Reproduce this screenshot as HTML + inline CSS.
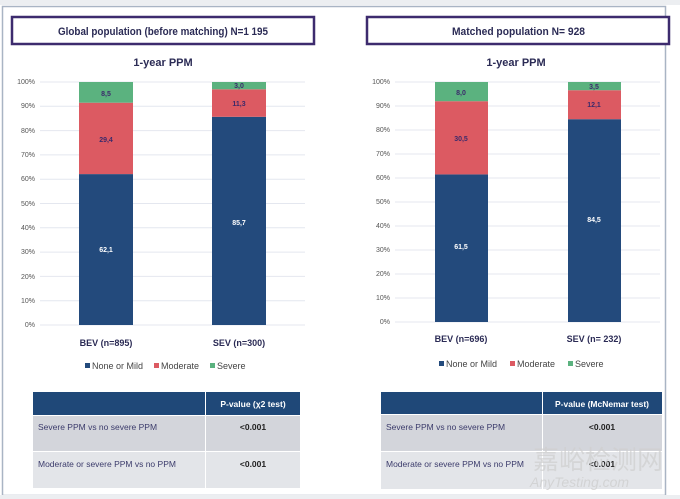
<!DOCTYPE html><html><head><meta charset="utf-8"><style>body{margin:0;background:#fff}svg{display:block}text{font-family:"Liberation Sans",sans-serif}</style></head><body>
<svg width="680" height="499" xmlns="http://www.w3.org/2000/svg">
<rect width="680" height="499" fill="#fff"/>
<rect x="0" y="0" width="680" height="5" fill="#eceef1"/>
<rect x="2.5" y="6.5" width="663" height="489" fill="none" stroke="#a9b4c4" stroke-width="1.5"/>
<rect x="0" y="495" width="680" height="4" fill="#eceef1"/>
<rect x="12" y="17" width="302" height="27" fill="#fff" stroke="#3d2b6e" stroke-width="2.5"/>
<text x="58" y="35" font-size="11" font-weight="bold" fill="#2b2b55" textLength="210" lengthAdjust="spacingAndGlyphs">Global population (before matching) N=1 195</text>
<rect x="367" y="17" width="302" height="27" fill="#fff" stroke="#3d2b6e" stroke-width="2.5"/>
<text x="452" y="35" font-size="11" font-weight="bold" fill="#2b2b55" textLength="133" lengthAdjust="spacingAndGlyphs">Matched population  N= 928</text>
<text x="163" y="66" font-size="11" font-weight="bold" text-anchor="middle" fill="#2b2b55">1-year PPM</text>
<text x="516" y="66" font-size="11" font-weight="bold" text-anchor="middle" fill="#2b2b55">1-year PPM</text>
<g font-size="7" fill="#555" text-anchor="end">
<text x="35" y="84">100%</text><text x="35" y="108">90%</text><text x="35" y="133">80%</text><text x="35" y="157">70%</text><text x="35" y="181">60%</text><text x="35" y="206">50%</text><text x="35" y="230">40%</text><text x="35" y="254">30%</text><text x="35" y="279">20%</text><text x="35" y="303">10%</text><text x="35" y="327">0%</text>
<text x="390" y="84">100%</text><text x="390" y="108">90%</text><text x="390" y="132">80%</text><text x="390" y="156">70%</text><text x="390" y="180">60%</text><text x="390" y="204">50%</text><text x="390" y="228">40%</text><text x="390" y="252">30%</text><text x="390" y="276">20%</text><text x="390" y="300">10%</text><text x="390" y="324">0%</text>
</g>
<g stroke="#e4e7ef" stroke-width="1">
<line x1="40" x2="305" y1="82" y2="82"/><line x1="40" x2="305" y1="106.3" y2="106.3"/><line x1="40" x2="305" y1="130.6" y2="130.6"/><line x1="40" x2="305" y1="154.9" y2="154.9"/><line x1="40" x2="305" y1="179.2" y2="179.2"/><line x1="40" x2="305" y1="203.5" y2="203.5"/><line x1="40" x2="305" y1="227.8" y2="227.8"/><line x1="40" x2="305" y1="252.1" y2="252.1"/><line x1="40" x2="305" y1="276.4" y2="276.4"/><line x1="40" x2="305" y1="300.7" y2="300.7"/><line x1="40" x2="305" y1="325" y2="325"/>
<line x1="395" x2="660" y1="82" y2="82"/><line x1="395" x2="660" y1="106" y2="106"/><line x1="395" x2="660" y1="130" y2="130"/><line x1="395" x2="660" y1="154" y2="154"/><line x1="395" x2="660" y1="178" y2="178"/><line x1="395" x2="660" y1="202" y2="202"/><line x1="395" x2="660" y1="226" y2="226"/><line x1="395" x2="660" y1="250" y2="250"/><line x1="395" x2="660" y1="274" y2="274"/><line x1="395" x2="660" y1="298" y2="298"/><line x1="395" x2="660" y1="322" y2="322"/>
</g>
<rect x="79" y="174.1" width="54" height="150.9" fill="#234a7c"/>
<rect x="79" y="102.7" width="54" height="71.4" fill="#dc5a62"/>
<rect x="79" y="82" width="54" height="20.7" fill="#5bb27f"/>
<rect x="212" y="116.8" width="54" height="208.2" fill="#234a7c"/>
<rect x="212" y="89.3" width="54" height="27.5" fill="#dc5a62"/>
<rect x="212" y="82" width="54" height="7.3" fill="#5bb27f"/>
<rect x="435" y="174.4" width="53" height="147.6" fill="#234a7c"/>
<rect x="435" y="101.2" width="53" height="73.2" fill="#dc5a62"/>
<rect x="435" y="82" width="53" height="19.2" fill="#5bb27f"/>
<rect x="568" y="119.2" width="53" height="202.8" fill="#234a7c"/>
<rect x="568" y="90.2" width="53" height="29" fill="#dc5a62"/>
<rect x="568" y="82" width="53" height="8.2" fill="#5bb27f"/>
<g font-size="7" font-weight="bold" text-anchor="middle" fill="#3b2a6b">
<text x="106" y="96">8,5</text><text x="106" y="142">29,4</text><text x="239" y="88">3,0</text><text x="239" y="106">11,3</text>
<text x="461" y="95">8,0</text><text x="461" y="141">30,5</text><text x="594" y="89">3,5</text><text x="594" y="107">12,1</text>
</g>
<g font-size="7" font-weight="bold" text-anchor="middle" fill="#fff">
<text x="106" y="252">62,1</text><text x="239" y="225">85,7</text><text x="461" y="249">61,5</text><text x="594" y="222">84,5</text>
</g>
<g font-size="9" font-weight="bold" text-anchor="middle" fill="#2b2b55">
<text x="106" y="346">BEV (n=895)</text><text x="239" y="346">SEV (n=300)</text>
<text x="461" y="342">BEV (n=696)</text><text x="594" y="342">SEV (n= 232)</text>
</g>
<g font-size="9" fill="#444">
<rect x="85" y="363" width="5" height="5" fill="#234a7c"/><text x="92" y="369">None or Mild</text>
<rect x="154" y="363" width="5" height="5" fill="#dc5a62"/><text x="161" y="369">Moderate</text>
<rect x="210" y="363" width="5" height="5" fill="#5bb27f"/><text x="217" y="369">Severe</text>
<rect x="439" y="361" width="5" height="5" fill="#234a7c"/><text x="446" y="367">None or Mild</text>
<rect x="510" y="361" width="5" height="5" fill="#dc5a62"/><text x="517" y="367">Moderate</text>
<rect x="568" y="361" width="5" height="5" fill="#5bb27f"/><text x="575" y="367">Severe</text>
</g>
<rect x="33" y="392" width="267" height="23" fill="#1f4878"/>
<rect x="33" y="415" width="267" height="36" fill="#d3d5db"/>
<rect x="33" y="451" width="267" height="37" fill="#e3e5e9"/>
<line x1="205.5" x2="205.5" y1="392" y2="488" stroke="#fff" stroke-width="1"/>
<line x1="33" x2="300" y1="415.5" y2="415.5" stroke="#fff"/><line x1="33" x2="300" y1="451.5" y2="451.5" stroke="#fff"/>
<text x="253" y="407" font-size="8.5" font-weight="bold" fill="#fff" text-anchor="middle">P-value (χ2 test)</text>
<text x="38" y="430" font-size="8.5" fill="#3b3b6b">Severe PPM vs no severe PPM</text>
<text x="253" y="430" font-size="8.5" font-weight="bold" fill="#222" text-anchor="middle">&lt;0.001</text>
<text x="38" y="467" font-size="8.5" fill="#3b3b6b">Moderate or severe PPM vs no PPM</text>
<text x="253" y="467" font-size="8.5" font-weight="bold" fill="#222" text-anchor="middle">&lt;0.001</text>
<rect x="381" y="392" width="281" height="22" fill="#1f4878"/>
<rect x="381" y="414" width="281" height="37" fill="#d3d5db"/>
<rect x="381" y="451" width="281" height="38" fill="#e3e5e9"/>
<line x1="542.5" x2="542.5" y1="392" y2="489" stroke="#fff"/>
<line x1="381" x2="662" y1="414.5" y2="414.5" stroke="#fff"/><line x1="381" x2="662" y1="451.5" y2="451.5" stroke="#fff"/>
<text x="602" y="407" font-size="8.5" font-weight="bold" fill="#fff" text-anchor="middle">P-value (McNemar test)</text>
<text x="386" y="430" font-size="8.5" fill="#3b3b6b">Severe PPM vs no severe PPM</text>
<text x="602" y="430" font-size="8.5" font-weight="bold" fill="#222" text-anchor="middle">&lt;0.001</text>
<text x="386" y="467" font-size="8.5" fill="#3b3b6b">Moderate or severe PPM vs no PPM</text>
<text x="602" y="467" font-size="8.5" font-weight="bold" fill="#222" text-anchor="middle">&lt;0.001</text>
<text x="533" y="469" font-size="26" fill="#cfcfcf" opacity="0.7" font-family="'Noto Sans CJK SC',sans-serif">嘉峪检测网</text>
<text x="530" y="487" font-size="14" font-style="italic" fill="#cfcfcf" opacity="0.8">AnyTesting.com</text>
</svg>
</body></html>
